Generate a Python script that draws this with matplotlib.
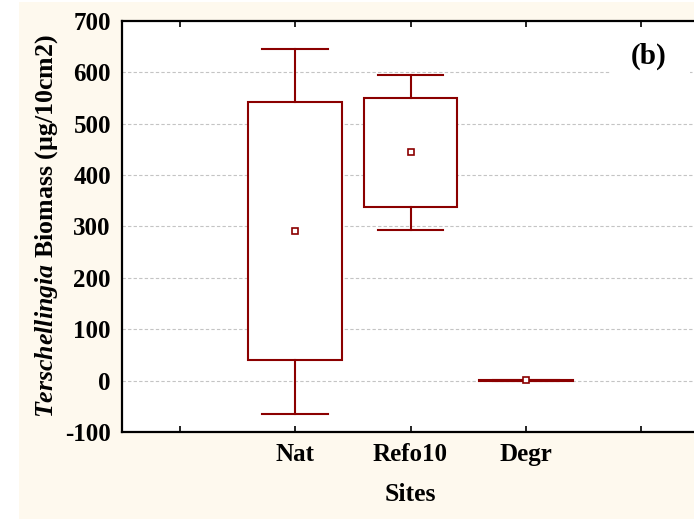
import matplotlib
matplotlib.use("Agg")
import matplotlib.pyplot as plt
from matplotlib.patches import Rectangle

# Terschellingia biomass per site: mean, box (inner interval) and whiskers (outer interval)
sites = ["Nat", "Refo10", "Degr"]
means = [291, 445, 1]
box_low = [40, 337, 0]
box_high = [541, 550, 2]
whisk_low = [-65, 293, 0]
whisk_high = [645, 595, 2]

tick_labels = ["", "Nat", "Refo10", "Degr", ""]
y_ticks = [-100, 0, 100, 200, 300, 400, 500, 600, 700]

plt.rcParams["font.family"] = ["Liberation Serif", "DejaVu Serif"]
plt.rcParams["mathtext.fontset"] = "custom"
plt.rcParams["mathtext.it"] = "Liberation Serif:italic:bold"
plt.rcParams["mathtext.rm"] = "Liberation Serif:bold"

W, H = 694, 519
fig = plt.figure(figsize=(W / 100, H / 100), dpi=100, facecolor="white")

# cream panel behind the plot
fig.patches.append(Rectangle((19 / W, 0), 1 - 19 / W, 1 - 2 / H,
                             transform=fig.transFigure, facecolor="#FEF9EE",
                             edgecolor="none", zorder=-5))

ax = fig.add_axes([122 / W, 1 - 432 / H, (699 - 122) / W, (432 - 20.7) / H])
ax.set_zorder(2)
ax.set_facecolor("white")

red = "#8B0000"
box_w = 0.81
cap_w = 0.57
positions = list(range(1, len(sites) + 1))

for x, m, bl, bh, wl, wh in zip(positions, means, box_low, box_high, whisk_low, whisk_high):
    ax.add_patch(Rectangle((x - box_w / 2, bl), box_w, bh - bl, facecolor="white",
                           edgecolor=red, linewidth=1.5, zorder=3))
    ax.plot([x, x], [bh, wh], color=red, linewidth=1.5, zorder=3)
    ax.plot([x, x], [wl, bl], color=red, linewidth=1.5, zorder=3)
    ax.plot([x - cap_w / 2, x + cap_w / 2], [wh, wh], color=red, linewidth=1.5, zorder=3)
    ax.plot([x - cap_w / 2, x + cap_w / 2], [wl, wl], color=red, linewidth=1.5, zorder=3)
    ax.plot(x, m, marker="s", markersize=4.5, markerfacecolor="white",
            markeredgecolor=red, markeredgewidth=1.2, zorder=4)

ax.set_xlim(-0.5, 4.5)
ax.set_ylim(-100, 700)
ax.set_xticks(range(len(tick_labels)))
ax.set_xticklabels(tick_labels, fontsize=18, fontweight="bold")
ax.set_yticks(y_ticks)
ax.set_yticklabels([str(v) for v in y_ticks], fontsize=18, fontweight="bold")

ax.tick_params(axis="x", direction="in", length=4, width=1.2, top=True, pad=8)
ax.tick_params(axis="y", direction="in", length=0, pad=8)

for g in [0, 100, 200, 300, 400, 500, 600]:
    ax.axhline(g, color="#c4c4c4", linewidth=0.8, linestyle=(0, (3, 2)), zorder=1)

for side in ["left", "top", "bottom"]:
    ax.spines[side].set_linewidth(1.6)
    ax.spines[side].set_color("black")
ax.spines["right"].set_visible(False)

ax.set_xlabel("Sites", fontsize=18.5, fontweight="bold", labelpad=12)
ax.set_ylabel(r"$\mathit{Terschellingia}$ Biomass (µg/10cm2)", fontsize=18.6,
              fontweight="bold", labelpad=4)

# panel letter on a white patch that interrupts the grid
ax.add_patch(Rectangle((0.846, 0.868), 0.138, 0.085, transform=ax.transAxes,
                       facecolor="white", edgecolor="none", zorder=4))
ax.text(4.06, 630, "(b)", fontsize=21, fontweight="bold", ha="center", va="center",
        zorder=5)

fig.savefig("out.png", dpi=100, facecolor=fig.get_facecolor())
